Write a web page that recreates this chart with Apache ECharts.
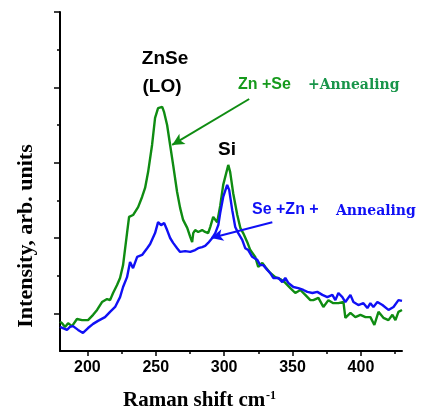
<!DOCTYPE html>
<html>
<head>
<meta charset="utf-8">
<script src="https://cdn.jsdelivr.net/npm/echarts@6/dist/echarts.min.js"></script>
<style>
html,body{margin:0;padding:0;background:#fff;}
#chart{width:422px;height:412px;}
</style>
</head>
<body>
<div id="chart"></div>
<script>
// Zn + Se + Annealing (green)
const ramanGreen = [180,181.5,183.7,185.9,188.8,192.4,196.1,200.5,204.2,207.1,210.7,214.4,216.6,218.8,221.7,223.9,226.1,229.0,230.5,233.4,237.1,240.0,242.2,244.4,247.3,249.5,251.7,254.7,256.1,258.3,260.5,262.7,265.6,267.8,270.0,273.0,275.2,276.6,277.4,278.8,281.0,283.9,286.1,288.3,289.8,292.0,294.9,297.1,299.3,303.0,304.4,306.6,309.6,311.8,313.9,316.9,319.1,322.7,324.9,327.9,330.1,333.7,337.4,341.0,344.7,348.4,352.0,355.7,359.3,363.0,365.2,368.9,372.5,376.2,379.8,383.5,387.2,388.6,392.3,395.9,399.6,403.3,406.9,409.8,412.8,416.4,420.1,423.0,425.2,427.4,430];
const intGreen = [0.78,0.74,0.64,0.74,0.66,0.85,0.82,0.82,0.96,1.09,1.30,1.38,1.35,1.54,1.75,1.94,2.28,3.13,3.56,3.61,3.82,4.09,4.33,4.75,5.47,6.19,6.45,6.48,6.34,6.00,5.47,4.94,4.22,3.80,3.48,3.27,3.03,2.89,3.13,3.21,3.16,3.21,3.16,3.13,3.29,3.56,3.42,3.85,4.41,4.94,4.75,4.19,3.61,3.27,3.13,2.89,2.68,2.50,2.23,2.34,2.23,2.07,1.96,1.91,1.81,1.67,1.54,1.62,1.49,1.35,1.35,1.41,1.17,1.35,1.27,1.27,1.30,0.88,1.01,0.90,0.96,0.90,0.90,0.69,1.04,0.88,0.82,0.96,0.82,1.04,1.09];
// Se + Zn + Annealing (blue)
const ramanBlue = [180,180.7,185.1,187.3,189.5,193.2,196.8,200.5,204.2,207.8,212.9,216.6,220.3,223.9,226.1,229.0,231.2,233.4,236.4,240.0,243.7,245.9,249.5,251.7,253.9,256.1,258.3,260.5,262.7,265.6,267.8,271.5,275.2,278.8,281.0,283.9,286.1,288.3,291.3,293.5,295.7,297.1,299.3,302.2,303.7,305.9,308.1,310.3,313.2,315.4,317.6,320.5,324.2,326.4,328.6,331.5,333.7,335.9,339.6,342.5,344.7,346.9,350.6,354.2,357.9,360.8,364.5,368.1,371.8,375.4,379.1,381.3,383.5,386.4,388.6,392.3,394.5,398.1,401.8,404.7,406.9,409.1,412.0,415.7,420.1,423.8,427.4,430];
const intBlue = [0.64,0.64,0.56,0.64,0.66,0.56,0.48,0.61,0.72,0.80,0.90,1.04,1.17,1.43,1.70,1.96,2.36,2.20,2.50,2.55,2.73,2.84,3.13,3.42,3.34,3.40,3.21,3.00,2.87,2.73,2.63,2.65,2.63,2.68,2.73,2.76,2.79,2.87,3.00,3.13,3.34,3.66,4.09,4.41,4.27,3.74,3.29,3.13,2.95,2.73,2.68,2.50,2.42,2.28,2.28,2.15,2.07,1.94,1.94,1.83,1.94,1.81,1.70,1.67,1.62,1.57,1.54,1.57,1.49,1.43,1.49,1.35,1.54,1.43,1.30,1.49,1.30,1.22,1.27,1.14,1.27,1.17,1.30,1.22,1.09,1.17,1.35,1.33];

const xTickLabels = [200, 250, 300, 350, 400];
const xMinorTicks = [225, 275, 325, 375, 425];
const yMajorTicks = [1, 3, 5, 7, 9];
const yMinorTicks = [2, 4, 6, 8];

// annotation arrows in data coordinates [from, to]
const greenArrow = [[318.3, 6.69], [262.0, 5.47]];
const blueArrow = [[335.2, 3.42], [290.5, 3.00]];

const GREEN = '#0f8c12';
const BLUE = '#1010f5';

const zip = (xs, ys) => xs.map((x, i) => [x, ys[i]]);
const arrow = (a, color) => ({
  silent: true,
  symbol: ['none', 'arrow'],
  symbolSize: [9, 12],
  label: { show: false },
  lineStyle: { color: color, width: 2, type: 'solid' },
  data: [[{ coord: a[0] }, { coord: a[1] }]]
});

const chart = echarts.init(document.getElementById('chart'), null, { renderer: 'canvas' });
chart.setOption({
  animation: false,
  backgroundColor: '#fff',
  grid: { left: 60, right: 20, top: 12, bottom: 61 },
  xAxis: [{
    type: 'value', min: 180, max: 430,
    axisLine: { show: true, lineStyle: { color: '#000', width: 2 } },
    axisTick: { show: true, length: 5, customValues: xTickLabels, lineStyle: { color: '#000', width: 1.5 } },
    axisLabel: { customValues: xTickLabels, margin: 9, color: '#000', fontFamily: '"Liberation Sans", Arial, sans-serif', fontWeight: 'bold', fontSize: 16 },
    splitLine: { show: false }
  }, {
    type: 'value', min: 180, max: 430, position: 'bottom',
    axisLine: { show: false },
    axisTick: { show: true, length: 3, customValues: xMinorTicks, lineStyle: { color: '#000', width: 1.5 } },
    axisLabel: { show: false },
    splitLine: { show: false }
  }],
  yAxis: [{
    type: 'value', min: 0, max: 9,
    axisLine: { show: true, lineStyle: { color: '#000', width: 2 } },
    axisTick: { show: true, length: 6, customValues: yMajorTicks, lineStyle: { color: '#000', width: 1.5 } },
    axisLabel: { show: false },
    splitLine: { show: false }
  }, {
    type: 'value', min: 0, max: 9, position: 'left', offset: 0,
    axisLine: { show: false },
    axisTick: { show: true, length: 3, customValues: yMinorTicks, lineStyle: { color: '#000', width: 1.5 } },
    axisLabel: { show: false },
    splitLine: { show: false }
  }],
  series: [{
    type: 'line', name: 'Zn +Se +Annealing', xAxisIndex: 0, yAxisIndex: 0,
    data: zip(ramanGreen, intGreen), showSymbol: false, symbol: 'none',
    lineStyle: { color: GREEN, width: 2.4 }, z: 2,
    markLine: arrow(greenArrow, GREEN)
  }, {
    type: 'line', name: 'Se +Zn + Annealing', xAxisIndex: 0, yAxisIndex: 0,
    data: zip(ramanBlue, intBlue), showSymbol: false, symbol: 'none',
    lineStyle: { color: BLUE, width: 2.4 }, z: 3,
    markLine: arrow(blueArrow, BLUE)
  }],
  graphic: [
    { type: 'text', x: 165, y: 59, style: { text: 'ZnSe', font: 'bold 19px "Liberation Sans", Arial, sans-serif', fill: '#000', align: 'center', verticalAlign: 'middle' } },
    { type: 'text', x: 162, y: 87, style: { text: '(LO)', font: 'bold 19px "Liberation Sans", Arial, sans-serif', fill: '#000', align: 'center', verticalAlign: 'middle' } },
    { type: 'text', x: 227, y: 150, style: { text: 'Si', font: 'bold 19px "Liberation Sans", Arial, sans-serif', fill: '#000', align: 'center', verticalAlign: 'middle' } },
    { type: 'text', x: 238, y: 85, style: { text: 'Zn +Se', font: 'bold 16px "Liberation Sans", Arial, sans-serif', fill: '#169a1c', align: 'left', verticalAlign: 'middle' } },
    { type: 'text', x: 308, y: 85, style: { text: '+Annealing', font: 'bold 14px "DejaVu Serif", serif', fill: '#18954a', align: 'left', verticalAlign: 'middle' } },
    { type: 'text', x: 252, y: 210, style: { text: 'Se +Zn +', font: 'bold 16px "Liberation Sans", Arial, sans-serif', fill: BLUE, align: 'left', verticalAlign: 'middle' } },
    { type: 'text', x: 336, y: 211, style: { text: 'Annealing', font: 'bold 14px "DejaVu Serif", serif', fill: BLUE, align: 'left', verticalAlign: 'middle' } },
    { type: 'text', x: 123, y: 401, style: { text: 'Raman shift cm', font: 'bold 21px "Liberation Serif", "Times New Roman", serif', fill: '#000', align: 'left', verticalAlign: 'middle' } },
    { type: 'text', x: 266, y: 396, style: { text: '-1', font: 'bold 12px "Liberation Serif", "Times New Roman", serif', fill: '#000', align: 'left', verticalAlign: 'middle' } },
    { type: 'text', x: 26, y: 236, rotation: Math.PI / 2, style: { text: 'Intensity, arb. units', font: 'bold 22px "Liberation Serif", "Times New Roman", serif', fill: '#000', align: 'center', verticalAlign: 'middle' } }
  ]
});
</script>
</body>
</html>
